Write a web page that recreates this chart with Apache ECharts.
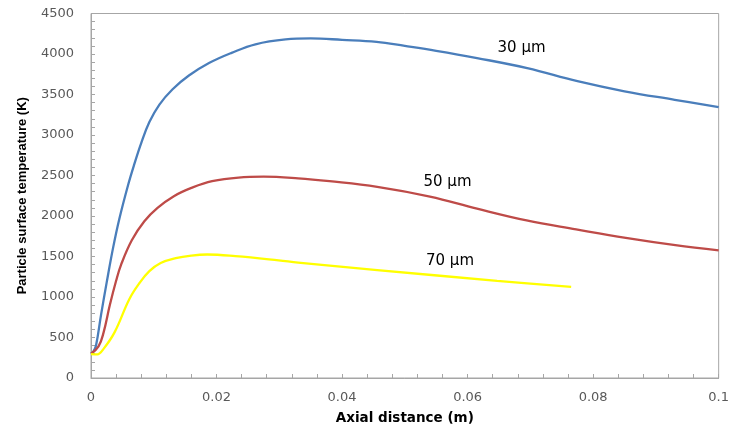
<!DOCTYPE html>
<html>
<head>
<meta charset="utf-8">
<script src="https://cdn.jsdelivr.net/npm/echarts@6/dist/echarts.min.js"></script>
<style>
  html, body { margin: 0; padding: 0; background: #fff; }
  #chart { width: 732px; height: 430px; }
</style>
</head>
<body>
<div id="chart"></div>
<script>
// axial distance (m) and particle surface temperature (K)
let x30 = [0, 0.0004, 0.0008, 0.0016, 0.0025, 0.0035, 0.0045, 0.0059, 0.0069, 0.008, 0.0093, 0.0109, 0.013, 0.0156, 0.0188, 0.0224, 0.0262, 0.031, 0.035, 0.04, 0.0455, 0.05, 0.055, 0.0615, 0.0695, 0.0775, 0.085, 0.093, 0.1]
let t30 = [300, 330, 400, 780, 1180, 1600, 1960, 2380, 2640, 2900, 3160, 3376, 3565, 3734, 3888, 4014, 4120, 4180, 4192, 4175, 4150, 4100, 4040, 3950, 3825, 3665, 3540, 3435, 3345]

let x50 = [0, 0.0012, 0.002, 0.003, 0.004, 0.0048, 0.0065, 0.0085, 0.0106, 0.0132, 0.0161, 0.0193, 0.0235, 0.0275, 0.033, 0.038, 0.0456, 0.054, 0.0615, 0.0694, 0.0773, 0.0852, 0.0931, 0.1]
let t50 = [300, 390, 560, 900, 1200, 1400, 1700, 1935, 2100, 2245, 2350, 2430, 2475, 2485, 2465, 2430, 2360, 2240, 2090, 1945, 1835, 1730, 1640, 1576]

let x70 = [0, 0.001, 0.002, 0.00375, 0.0061, 0.0077, 0.0093, 0.0111, 0.0135, 0.016, 0.0185, 0.023, 0.0299, 0.033, 0.0456, 0.0647, 0.0765]
let t70 = [295, 292, 360, 563, 973, 1170, 1320, 1420, 1480, 1512, 1525, 1505, 1453, 1425, 1333, 1200, 1124]

let seriesNames = ["30 μm", "50 μm", "70 μm"]
let seriesColors = ["#4a7ebb", "#be4b48", "#ffff00"]

let xTicks = [0, 0.02, 0.04, 0.06, 0.08, 0.1]
let yTicks = [0, 500, 1000, 1500, 2000, 2500, 3000, 3500, 4000, 4500]

function pairs(xs, ys) {
  return xs.map((v, i) => [v, ys[i]])
}

let chartDom = document.getElementById("chart");
let myChart = echarts.init(chartDom, null, { renderer: "canvas" });

let axisGray = "#a6a6a6"
let labelStyle = {
  color: "#595959",
  fontFamily: "DejaVu Sans",
  fontSize: 13
}

// where the curve names sit, in data units
let namePos = [[0.0686, 4076], [0.0568, 2414], [0.0572, 1441]]

let allData = [pairs(x30, t30), pairs(x50, t50), pairs(x70, t70)]

let option = {
  animation: false,
  grid: {
    left: 91,
    right: 9,
    top: 13.5,
    bottom: 51,
    show: true,
    borderColor: axisGray,
    borderWidth: 1
  },
  xAxis: {
    type: "value",
    min: xTicks[0],
    max: xTicks[xTicks.length - 1],
    interval: 0.02,
    name: "Axial distance (m)",
    nameLocation: "middle",
    nameGap: 33,
    nameTextStyle: {
      color: "#000",
      fontFamily: "DejaVu Sans",
      fontWeight: "bold",
      fontSize: 13.5
    },
    axisLine: { lineStyle: { color: axisGray } },
    axisTick: { inside: true, length: 4, lineStyle: { color: axisGray } },
    minorTick: { show: true, splitNumber: 5, length: 4, lineStyle: { color: axisGray } },
    splitLine: { show: false },
    axisLabel: Object.assign({ margin: 13, formatter: v => String(+v.toFixed(2)) }, labelStyle)
  },
  yAxis: {
    type: "value",
    min: yTicks[0],
    max: yTicks[yTicks.length - 1],
    interval: 500,
    name: "Particle surface temperature (K)",
    nameLocation: "middle",
    nameGap: 62,
    nameTextStyle: {
      color: "#000",
      fontFamily: "Liberation Sans",
      fontWeight: "bold",
      fontSize: 13
    },
    axisLine: { show: true, lineStyle: { color: axisGray } },
    axisTick: { show: true, inside: true, length: 4, lineStyle: { color: axisGray } },
    minorTick: { show: true, splitNumber: 5, length: 4, lineStyle: { color: axisGray } },
    splitLine: { show: false },
    axisLabel: Object.assign({ margin: 17, formatter: v => String(v) }, labelStyle)
  },
  series: seriesNames.map((n, i) => ({
    name: n,
    type: "line",
    data: allData[i],
    showSymbol: false,
    smooth: 0.4,
    lineStyle: { color: seriesColors[i], width: 2.3 },
    markPoint: {
      symbol: "circle",
      symbolSize: 0,
      label: {
        show: true,
        position: "inside",
        formatter: n,
        color: "#000",
        fontFamily: "DejaVu Sans",
        fontSize: 15
      },
      data: [{ coord: namePos[i] }]
    }
  }))
};

myChart.setOption(option);
window.addEventListener("resize", () => {
  myChart.resize();
});
</script>
</body>
</html>
